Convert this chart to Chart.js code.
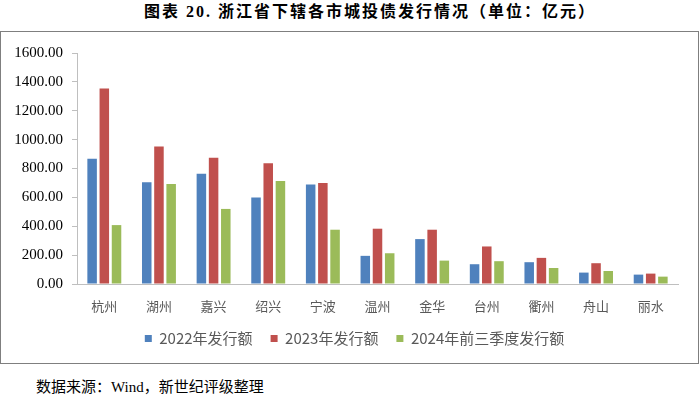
<!DOCTYPE html>
<html>
<head>
<meta charset="utf-8">
<script src="https://cdn.jsdelivr.net/npm/chart.js@4"></script>
<style>
    body { margin: 0; background: #fff; width: 700px; height: 396px; position: relative; overflow: hidden; }
    #title { position: absolute; left: 144px; top: -2px; white-space: nowrap; font: bold 16px "Liberation Serif", "Noto Sans CJK SC"; letter-spacing: 2px; color: #000; }
    #box { position: absolute; left: 0; top: 31px; width: 697px; height: 331px; border: 1px solid #7f7f7f; }
    #wrap { position: absolute; left: 1px; top: 32px; width: 698px; height: 340px; }
    #source { position: absolute; left: 36px; top: 375px; font: 15px "Liberation Serif", "Noto Sans CJK SC"; color: #000; }
</style>
</head>
<body>
<div id="title">图表 20. 浙江省下辖各市城投债发行情况（单位：亿元）</div>
<div id="box"></div>
<div id="wrap"><canvas id="chart"></canvas></div>
<div id="source">数据来源：Wind，新世纪评级整理</div>
<script>
var cities = ["杭州", "湖州", "嘉兴", "绍兴", "宁波", "温州", "金华", "台州", "衢州", "舟山", "丽水"];
var issue2022 = [867, 705, 763, 600, 689, 195, 311, 137, 151, 79, 65];
var issue2023 = [1354, 953, 874, 837, 700, 383, 376, 260, 181, 144, 72];
var issue2024q3 = [408, 693, 520, 714, 376, 213, 162, 158, 111, 90, 51];
var seriesNames = ["2022年发行额", "2023年发行额", "2024年前三季度发行额"];
var yTicks = [0, 200, 400, 600, 800, 1000, 1200, 1400, 1600];

var colors = ["#4F81BD", "#C0504D", "#9BBB59"];

// the original legend sits a bit right of the canvas centre
var legendShift = {
    id: "legendShift",
    afterLayout: function(chart) {
        chart.legend.left += 15;
        chart.legend.right += 15;
    }
};

var ctx = document.getElementById("chart").getContext("2d");
new Chart(ctx, {
    type: "bar",
    data: {
        labels: cities,
        datasets: [
            { label: seriesNames[0], data: issue2022, backgroundColor: colors[0] },
            { label: seriesNames[1], data: issue2023, backgroundColor: colors[1] },
            { label: seriesNames[2], data: issue2024q3, backgroundColor: colors[2] }
        ]
    },
    plugins: [legendShift],
    options: {
        responsive: true,
        maintainAspectRatio: false,
        animation: false,
        layout: { padding: { top: 21, right: 21, bottom: 16, left: 0 } },
        datasets: { bar: { categoryPercentage: 0.67, barPercentage: 0.78 } },
        plugins: {
            title: { display: false },
            tooltip: { enabled: false },
            legend: {
                position: "bottom",
                labels: {
                    boxWidth: 7,
                    boxHeight: 7,
                    padding: 18,
                    color: "#595959",
                    font: { family: "'Noto Sans CJK SC'", size: 15 }
                }
            }
        },
        scales: {
            x: {
                grid: { display: false, drawTicks: false },
                border: { display: true, color: "#bfbfbf" },
                ticks: {
                    padding: 14,
                    color: "#595959",
                    font: { family: "'Noto Sans CJK SC'", size: 13 },
                    maxRotation: 0
                },
                afterFit: function(scale) { scale.height = 29; }
            },
            y: {
                min: yTicks[0],
                max: yTicks[yTicks.length - 1],
                grid: { drawOnChartArea: false, tickLength: 5, color: "#bfbfbf" },
                border: { display: true, color: "#bfbfbf" },
                ticks: {
                    stepSize: 200,
                    padding: 9,
                    color: "#000",
                    font: { family: "'Liberation Serif'", size: 15 },
                    callback: function(v) { return v.toFixed(2); }
                },
                afterBuildTicks: function(scale) {
                    scale.ticks = yTicks.map(function(v) { return { value: v }; });
                },
                afterFit: function(scale) { scale.width = 76; }
            }
        }
    }
});
</script>
</body>
</html>
